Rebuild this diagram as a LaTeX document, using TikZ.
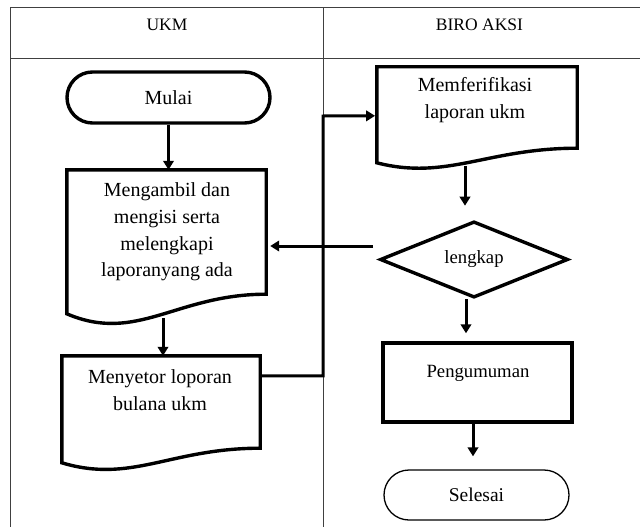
\documentclass[tikz,border=0pt]{standalone}
\usepackage{fontspec}
\setmainfont{Liberation Serif}
\usetikzlibrary{shapes.geometric,shapes.misc,arrows.meta,calc}
\begin{document}
\begin{tikzpicture}[x=1pt,y=-1pt,
 frame/.style={line width=3.4pt, line join=miter},
 conn/.style={line width=3pt, -{Triangle[length=9pt,width=10.5pt]}},
 tbl/.style={line width=1pt, draw=black!75},
 box/.style={draw=none, inner sep=0pt},
 lbl/.style={align=center, inner sep=0pt, font=\fontsize{20}{26.7}\selectfont},
 lbls/.style={align=center, inner sep=0pt, font=\fontsize{18.7}{24}\selectfont},
 hdr/.style={inner sep=0pt, font=\fontsize{17.5}{21}\selectfont},
]
\useasboundingbox (0,0) rectangle (640,527);

% table
\draw[tbl] (10,8) -- (640,8);
\draw[tbl] (10,59) -- (640,59);
\draw[tbl] (10,8) -- (10,527);
\draw[tbl] (323,8) -- (323,527);
\node[hdr] (hukm) at (167,25) {UKM};
\node[hdr] (hbiro) at (479.5,25) {BIRO AKSI};

% Mulai
\node[frame, draw, rounded rectangle, minimum width=203pt, minimum height=51pt,
      inner sep=0pt, font=\fontsize{20}{24}\selectfont] (mulai) at (168.5,97.5) {Mulai};

% doc1
\node[box, minimum width=199pt, minimum height=124pt] (doc1) at (166.5,232) {};
\coordinate (doc1L) at ($(doc1.north west)+(0,144)$);
\draw[frame] (doc1L) -- (doc1.north west) -- (doc1.north east) -- (doc1.south east)
   .. controls +(-90,0) and +(70,30) .. (doc1L) -- cycle;
\node[lbl] (doc1t) at (167,232) {Mengambil dan\\mengisi serta\\melengkapi\\laporanyang ada};

% doc2
\node[box, minimum width=198pt, minimum height=92pt] (doc2) at (161,402) {};
\coordinate (doc2L) at ($(doc2.north west)+(0,107)$);
\draw[frame] (doc2L) -- (doc2.north west) -- (doc2.north east) -- (doc2.south east)
   .. controls +(-90,0) and +(70,21) .. (doc2L) -- cycle;
\node[lbl] (doc2t) at (160,390) {Menyetor loporan\\bulana ukm};

% doc3
\node[box, minimum width=200pt, minimum height=81pt] (doc3) at (477,107.5) {};
\coordinate (doc3L) at ($(doc3.north west)+(0,96)$);
\draw[frame] (doc3L) -- (doc3.north west) -- (doc3.north east) -- (doc3.south east)
   .. controls +(-90,0) and +(70,18) .. (doc3L) -- cycle;
\node[lbl] (doc3t) at (475,100) {Memferifikasi\\laporan ukm};

% diamond
\node[frame, draw, diamond, minimum width=188pt, minimum height=75pt, inner sep=0pt,
      font=\fontsize{18.7}{22}\selectfont] (dia) at (474,259.5) {lengkap};

% Pengumuman
\node[frame, draw, minimum width=189pt, minimum height=79pt, inner sep=0pt] (peng) at (477.5,382.5) {};
\node[lbls] (pengt) at (478,373) {Pengumuman};

% Selesai
\node[draw, line width=1.3pt, rounded rectangle, minimum width=185pt, minimum height=50pt,
      inner sep=0pt, font=\fontsize{19.5}{23}\selectfont] (sel) at (476.5,495) {Selesai};

% connectors
\draw[conn] (mulai.south) -- (mulai.south |- doc1.north);
\coordinate (doc1b) at (163,318);
\draw[conn] (doc1b) -- (doc1b |- doc2.north);
\coordinate (doc2r) at ($(doc2.north east)+(0,20)$);
\coordinate (bend) at (323,116);
\coordinate (doc3in) at ($(doc3.north west)+(0,49)$);
\draw[conn, line join=miter, shorten >=1.7pt] (doc2r) -| (bend) -- (doc3in);
\coordinate (doc3b) at (465,166);
\draw[conn, shorten >=14pt] (doc3b) -- (doc3b |- dia.north);
\coordinate (diaw) at (373,246);
\draw[conn, shorten >=4pt] (diaw) -- (diaw -| doc1.east);
\coordinate (dias) at (466,299);
\draw[conn, shorten >=8pt] (dias) -- (dias |- peng.north);
\coordinate (pengs) at ($(peng.south)+(-4.5,0)$);
\draw[conn, shorten >=13pt] (pengs) -- (pengs |- sel.north);
\end{tikzpicture}
\end{document}
